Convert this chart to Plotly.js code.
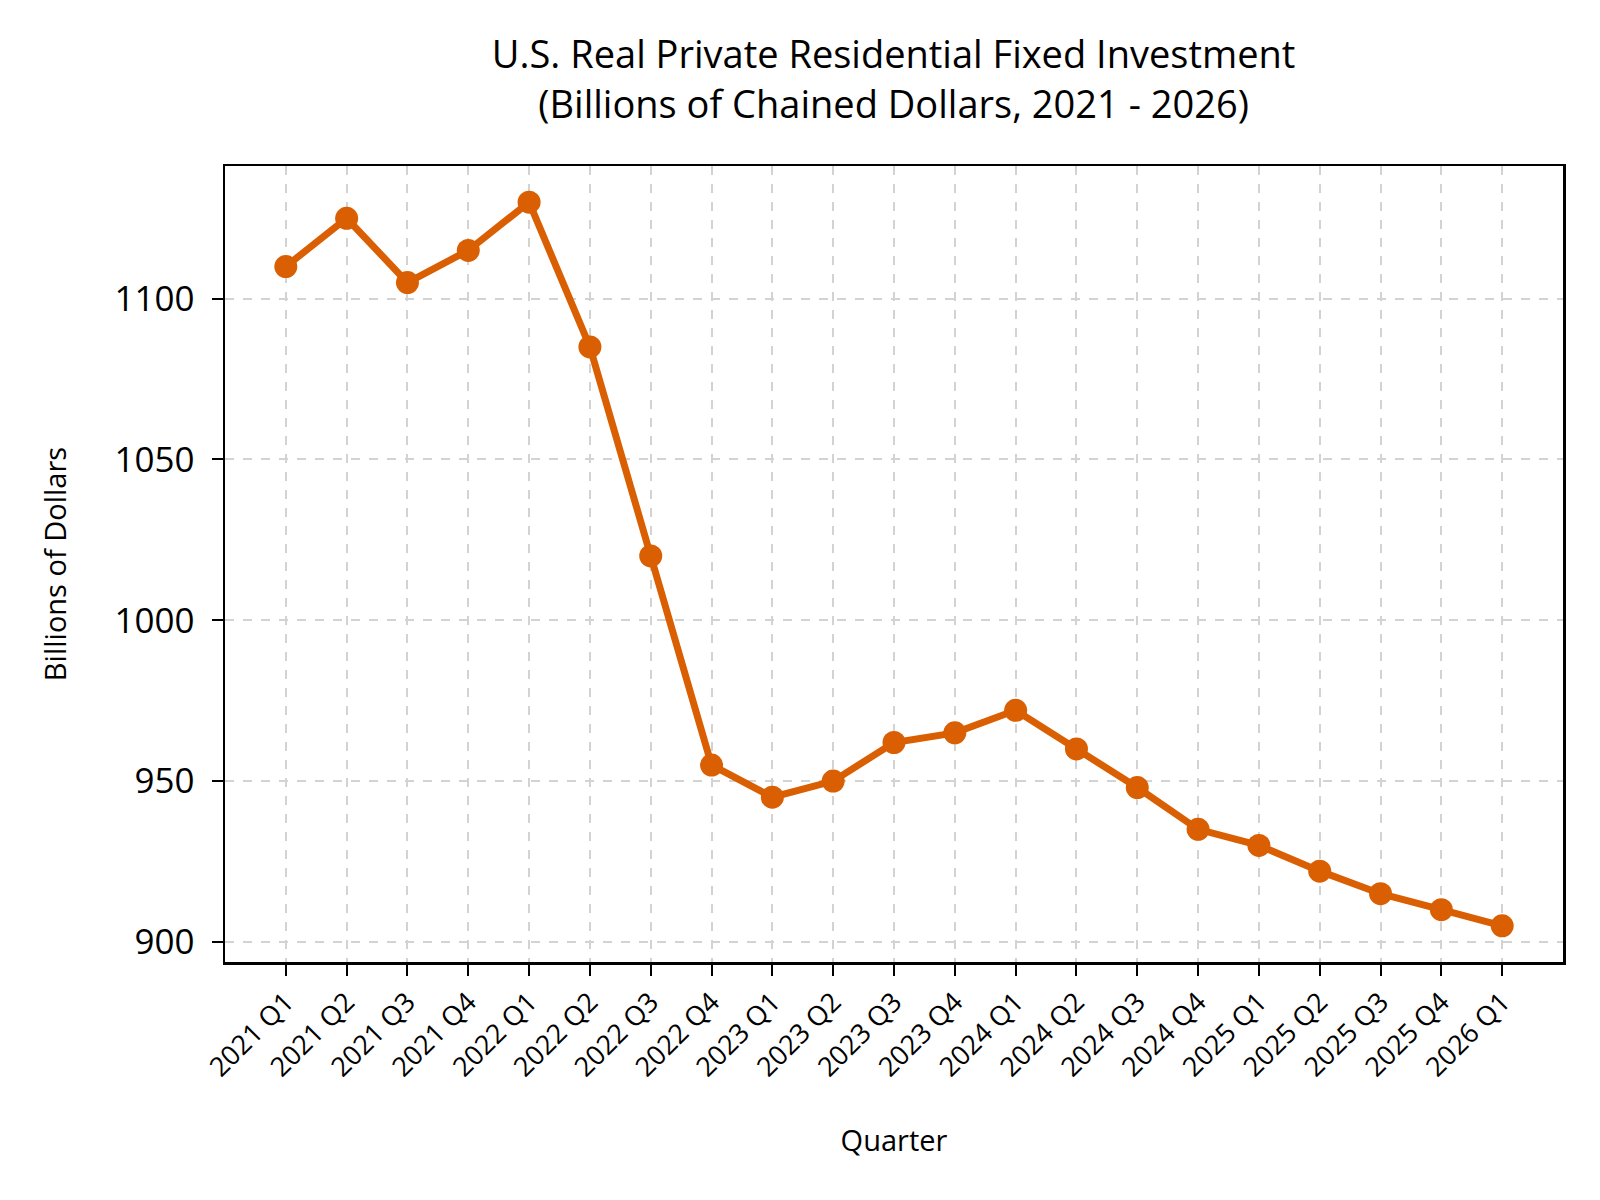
<!DOCTYPE html>
<html>
<head>
<meta charset="utf-8">
<script src="https://cdn.plot.ly/plotly-3.0.1.min.js"></script>
<style>
  body { margin: 0; background: #fff; }
  #chart { width: 1600px; height: 1200px; }
</style>
</head>
<body>
<div id="chart"></div>
<script>
// quarters shown on the x axis
const quarters = [
  "2021 Q1", "2021 Q2", "2021 Q3", "2021 Q4",
  "2022 Q1", "2022 Q2", "2022 Q3", "2022 Q4",
  "2023 Q1", "2023 Q2", "2023 Q3", "2023 Q4",
  "2024 Q1", "2024 Q2", "2024 Q3", "2024 Q4",
  "2025 Q1", "2025 Q2", "2025 Q3", "2025 Q4",
  "2026 Q1"
]

// billions of chained dollars
const investment = [
  1110, 1125, 1105, 1115,
  1130, 1085, 1020, 955,
  945, 950, 962, 965,
  972, 960, 948, 935,
  930, 922, 915, 910,
  905
]

const yTicks = [900, 950, 1000, 1050, 1100]

const lineColor = '#d95f02'
const font = 'Open Sans, Liberation Sans, sans-serif'

let trace = {
  x: quarters.map((q, i) => i),
  y: investment,
  mode: 'lines+markers',
  type: 'scatter',
  line: { color: lineColor, width: 7 },
  marker: { color: lineColor, size: 23 },
  hoverinfo: 'skip'
}

// matplotlib-ish 5% padding around the data
let ymin = Math.min(...investment), ymax = Math.max(...investment)
let pad = (ymax - ymin) * 0.05

let layout = {
  width: 1600,
  height: 1200,
  paper_bgcolor: '#fff',
  plot_bgcolor: '#fff',
  showlegend: false,
  margin: { l: 225, r: 37, t: 166, b: 238 },
  font: { family: font, color: '#000' },
  title: {
    text: 'U.S. Real Private Residential Fixed Investment<br>(Billions of Chained Dollars, 2021 - 2026)',
    font: { size: 38, family: font, color: '#000' },
    x: 0.5585,
    xanchor: 'center',
    y: 0.943,
    yanchor: 'top',
    yref: 'container'
  },
  xaxis: {
    range: [-1, quarters.length],
    tickmode: 'array',
    tickvals: quarters.map((q, i) => i),
    ticktext: quarters,
    tickangle: -45,
    tickfont: { size: 27 },
    ticks: 'outside',
    ticklen: 11,
    tickwidth: 2,
    tickcolor: '#000',
    showline: true,
    linecolor: '#000',
    linewidth: 2.5,
    mirror: true,
    showgrid: true,
    gridcolor: '#d3d3d3',
    gridwidth: 2,
    griddash: 'dash',
    zeroline: false,
    title: { text: 'Quarter', font: { size: 29 }, standoff: 48 }
  },
  yaxis: {
    range: [ymin - pad, ymax + pad],
    tickmode: 'array',
    tickvals: yTicks,
    ticktext: yTicks.map(String),
    tickfont: { size: 35 },
    ticks: 'outside',
    ticklen: 11,
    tickwidth: 2,
    tickcolor: '#000',
    ticklabelstandoff: 10,
    showline: true,
    linecolor: '#000',
    linewidth: 2.5,
    mirror: true,
    showgrid: true,
    gridcolor: '#d3d3d3',
    gridwidth: 2,
    griddash: 'dash',
    zeroline: false,
    title: { text: 'Billions of Dollars', font: { size: 29 }, standoff: 40 }
  }
}

Plotly.newPlot('chart', [trace], layout, { staticPlot: true })
</script>
</body>
</html>
